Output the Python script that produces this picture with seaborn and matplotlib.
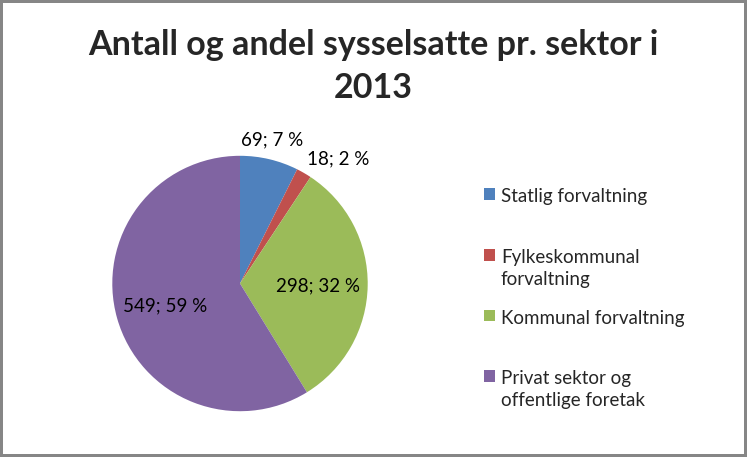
import matplotlib.pyplot as plt
import numpy as np
import seaborn as sns

sns.set_theme(style="white")
plt.rcParams['font.family'] = ['Lato', 'DejaVu Sans']

TITLE = 'Antall og andel sysselsatte pr. sektor i\n2013'
categories = [
    'Statlig forvaltning',
    'Fylkeskommunal\nforvaltning',
    'Kommunal forvaltning',
    'Privat sektor og\noffentlige foretak',
]
values = [69, 18, 298, 549]
colors = ['#4F81BD', '#C0504D', '#9BBB59', '#8064A2']

# label placement per slice (distance from centre, alignment)
label_dist = [1.09, 1.05, 0.61, 0.61]
label_ha = ['center', 'left', 'center', 'center']
label_va = ['bottom', 'bottom', 'center_baseline', 'center_baseline']


def main() -> None:
    W, H = 747, 457
    fig = plt.figure(figsize=(W / 100, H / 100), dpi=100,
                     linewidth=3, edgecolor='#868686')
    fig.patch.set_facecolor('white')

    # pie axes: centre (240, 283.5), radius ~128 px
    r = 127.7
    cx, cy = 240, 283.5
    ax = fig.add_axes([(cx - r) / W, (H - cy - r) / H, 2 * r / W, 2 * r / H])
    wedges, _ = ax.pie(values, colors=colors, startangle=90, counterclock=False,
                       wedgeprops=dict(linewidth=0))
    ax.set_xlim(-1, 1)
    ax.set_ylim(-1, 1)
    ax.set_axis_off()

    total = sum(values)
    for i, w in enumerate(wedges):
        mid = np.deg2rad((w.theta1 + w.theta2) / 2)
        d = label_dist[i]
        pct = values[i] / total * 100
        ax.text(d * np.cos(mid), d * np.sin(mid), f'{values[i]}; {pct:.0f} %',
                ha=label_ha[i], va=label_va[i], fontsize=13.5, color='black')

    fig.text(0.4993, 1 - 29 / H, TITLE, ha='center', va='top',
             fontsize=24.5, fontweight='bold', linespacing=1.42)

    labels = [c if '\n' in c else c + '\n' for c in categories]
    leg = fig.legend(wedges, labels, loc='upper left',
                     bbox_to_anchor=(484 / W, 1 - 188 / H),
                     frameon=False, fontsize=13.5, borderpad=0, borderaxespad=0,
                     handlelength=0.6, handleheight=0.6, handletextpad=0.3,
                     labelspacing=1.16)
    for t in leg.get_texts():
        t.set_linespacing(1.36)
    # put the colour box beside the first line of each label
    for col in leg._legend_handle_box.get_children():
        for item in col.get_children():
            item.align = 'top'

    fig.savefig('out.png', dpi=100, facecolor='white', edgecolor='#868686')


if __name__ == '__main__':
    main()
